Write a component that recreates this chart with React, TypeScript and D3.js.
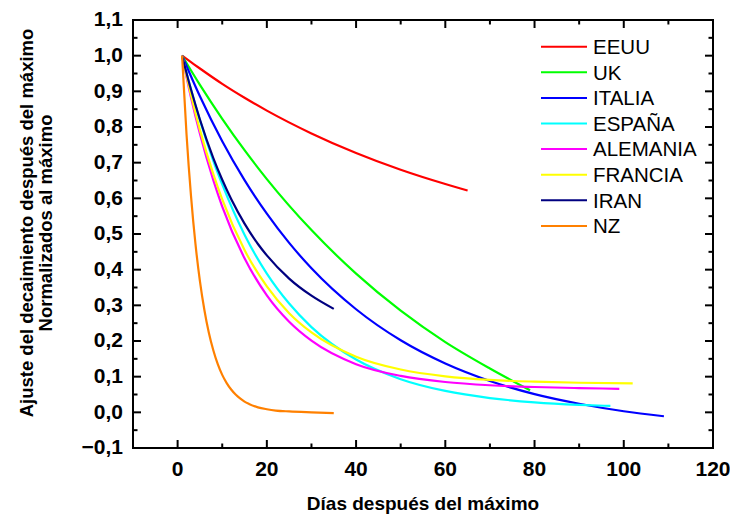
import * as d3 from 'd3';
import React, { useEffect, useRef } from 'react';

const seriesNames = ['EEUU', 'UK', 'ITALIA', 'ESPAÑA', 'ALEMANIA', 'FRANCIA', 'IRAN', 'NZ'];
const seriesColors = ['#ff0000', '#00ff00', '#0000ff', '#00ffff', '#ff00ff', '#ffff00', '#000080', '#ff8000'];

const eeuuDays = [1, 3, 5, 10, 15, 20, 30, 40, 50, 60, 65];
const eeuuValues = [1, 0.982, 0.964, 0.921, 0.882, 0.846, 0.782, 0.727, 0.68, 0.64, 0.622];

const ukDays = [1, 5, 10, 15, 20, 30, 40, 50, 60, 70, 79];
const ukValues = [1, 0.918, 0.823, 0.735, 0.654, 0.511, 0.389, 0.285, 0.197, 0.123, 0.062];

const italiaDays = [1, 5, 10, 15, 20, 25, 30, 40, 50, 60, 70, 80, 90, 100, 109];
const italiaValues = [1, 0.886, 0.76, 0.651, 0.557, 0.475, 0.404, 0.289, 0.202, 0.137, 0.088, 0.051, 0.024, 0.003, -0.011];

const espanaDays = [1, 3, 5, 8, 10, 15, 20, 25, 30, 40, 50, 60, 70, 80, 90, 97];
const espanaValues = [1, 0.905, 0.819, 0.705, 0.639, 0.498, 0.389, 0.305, 0.239, 0.148, 0.093, 0.06, 0.04, 0.028, 0.021, 0.018];

const alemaniaDays = [1, 3, 5, 8, 10, 15, 20, 25, 30, 40, 50, 60, 70, 80, 90, 99];
const alemaniaValues = [1, 0.883, 0.781, 0.651, 0.577, 0.432, 0.328, 0.254, 0.201, 0.135, 0.102, 0.085, 0.076, 0.071, 0.068, 0.066];

const franciaDays = [1, 3, 5, 8, 10, 15, 20, 25, 30, 40, 50, 60, 70, 80, 90, 102];
const franciaValues = [1, 0.89, 0.792, 0.668, 0.597, 0.455, 0.353, 0.278, 0.224, 0.156, 0.12, 0.101, 0.091, 0.086, 0.083, 0.081];

const iranDays = [1, 3, 5, 8, 10, 12, 15, 18, 20, 25, 30, 35];
const iranValues = [1, 0.905, 0.821, 0.713, 0.652, 0.598, 0.529, 0.472, 0.44, 0.375, 0.327, 0.29];

const nzDays = [1, 2, 3, 4, 5, 6, 7, 8, 9, 10, 11, 12, 13, 14, 15, 16, 18, 20, 22, 25, 30, 35];
const nzValues = [1, 0.779, 0.607, 0.472, 0.368, 0.287, 0.223, 0.174, 0.135, 0.105, 0.082, 0.064, 0.05, 0.039, 0.03, 0.0235, 0.014, 0.0087, 0.005, 0.0025, 0, -0.002];

const allDays = [eeuuDays, ukDays, italiaDays, espanaDays, alemaniaDays, franciaDays, iranDays, nzDays];
const allValues = [eeuuValues, ukValues, italiaValues, espanaValues, alemaniaValues, franciaValues, iranValues, nzValues];

const xTicks = [0, 20, 40, 60, 80, 100, 120];
const xMinorTicks = [-10, 10, 30, 50, 70, 90, 110];
const yTicks = [-0.1, 0, 0.1, 0.2, 0.3, 0.4, 0.5, 0.6, 0.7, 0.8, 0.9, 1.0, 1.1];
const yMinorTicks = [-0.05, 0.05, 0.15, 0.25, 0.35, 0.45, 0.55, 0.65, 0.75, 0.85, 0.95, 1.05];

const xTitle = 'Días después del máximo';
const yTitle1 = 'Ajuste del decaimiento después del máximo';
const yTitle2 = 'Normalizados al máximo';

const W = 730;
const H = 517;
const left = 133, right = 713, top = 20, bottom = 448;

const App = () => {
    const ref = useRef(null);

    useEffect(() => {
        const svg = d3.select(ref.current);
        svg.selectAll('*').remove();

        const x = d3.scaleLinear().domain([-10, 120]).range([left, right]);
        const y = d3.scaleLinear().domain([-0.1, 1.1]).range([bottom, top]);
        const font = 'Arial, "Liberation Sans", sans-serif';

        // curves
        const line = d3.line()
            .x((d) => x(d[0]))
            .y((d) => y(d[1]))
            .curve(d3.curveMonotoneX);

        const plot = svg.append('g');
        allDays.forEach((days, i) => {
            const pts = days.map((dd, j) => [dd, allValues[i][j]]);
            plot.append('path')
                .attr('d', line(pts))
                .attr('fill', 'none')
                .attr('stroke', seriesColors[i])
                .attr('stroke-width', 2.2)
                .attr('stroke-linejoin', 'round');
        });

        // frame
        svg.append('rect')
            .attr('x', left).attr('y', top)
            .attr('width', right - left).attr('height', bottom - top)
            .attr('fill', 'none').attr('stroke', '#000').attr('stroke-width', 2);

        const ticks = svg.append('g').attr('stroke', '#000').attr('stroke-width', 2);
        const major = 8, minor = 4.5;
        const addX = (vals, len) => vals.forEach((v) => {
            ticks.append('line').attr('x1', x(v)).attr('x2', x(v)).attr('y1', bottom).attr('y2', bottom - len);
            ticks.append('line').attr('x1', x(v)).attr('x2', x(v)).attr('y1', top).attr('y2', top + len);
        });
        const addY = (vals, len) => vals.forEach((v) => {
            ticks.append('line').attr('y1', y(v)).attr('y2', y(v)).attr('x1', left).attr('x2', left + len);
            ticks.append('line').attr('y1', y(v)).attr('y2', y(v)).attr('x1', right).attr('x2', right - len);
        });
        addX(xTicks, major);
        addX(xMinorTicks, minor);
        addY(yTicks, major);
        addY(yMinorTicks, minor);

        const fmt = d3.format('.1f');
        svg.append('g').selectAll('text')
            .data(yTicks)
            .join('text')
            .attr('x', 123)
            .attr('y', (d) => y(d))
            .attr('dy', '0.3em')
            .attr('text-anchor', 'end')
            .style('font-family', font)
            .style('font-weight', 'bold')
            .style('font-size', '21px')
            .text((d) => fmt(d).replace('.', ','));

        svg.append('g').selectAll('text')
            .data(xTicks)
            .join('text')
            .attr('x', (d) => x(d))
            .attr('y', 476)
            .attr('text-anchor', 'middle')
            .style('font-family', font)
            .style('font-weight', 'bold')
            .style('font-size', '21px')
            .text((d) => d);

        svg.append('text')
            .attr('x', (left + right) / 2)
            .attr('y', 510)
            .attr('text-anchor', 'middle')
            .style('font-family', font)
            .style('font-weight', 'bold')
            .style('font-size', '19px')
            .text(xTitle);

        const yt = svg.append('g').attr('transform', 'translate(0,223) rotate(-90)');
        yt.append('text')
            .attr('x', 0).attr('y', 33)
            .attr('text-anchor', 'middle')
            .style('font-family', font)
            .style('font-weight', 'bold')
            .style('font-size', '18.5px')
            .text(yTitle1);
        yt.append('text')
            .attr('x', 0).attr('y', 52)
            .attr('text-anchor', 'middle')
            .style('font-family', font)
            .style('font-weight', 'bold')
            .style('font-size', '18.5px')
            .text(yTitle2);

        // legend
        const legend = svg.append('g');
        seriesNames.forEach((name, i) => {
            const ly = 46.7 + i * 25.6;
            legend.append('line')
                .attr('x1', 541).attr('x2', 587)
                .attr('y1', ly).attr('y2', ly)
                .attr('stroke', seriesColors[i]).attr('stroke-width', 2);
            legend.append('text')
                .attr('x', 593).attr('y', ly)
                .attr('dy', '0.36em')
                .style('font-family', font)
                .style('font-size', '20.5px')
                .text(name);
        });
    }, []);

    return (
        <svg ref={ref} width={W} height={H}
            style={{ position: 'absolute', left: 0, top: 0, background: '#fff' }} />
    );
};

export default App;
